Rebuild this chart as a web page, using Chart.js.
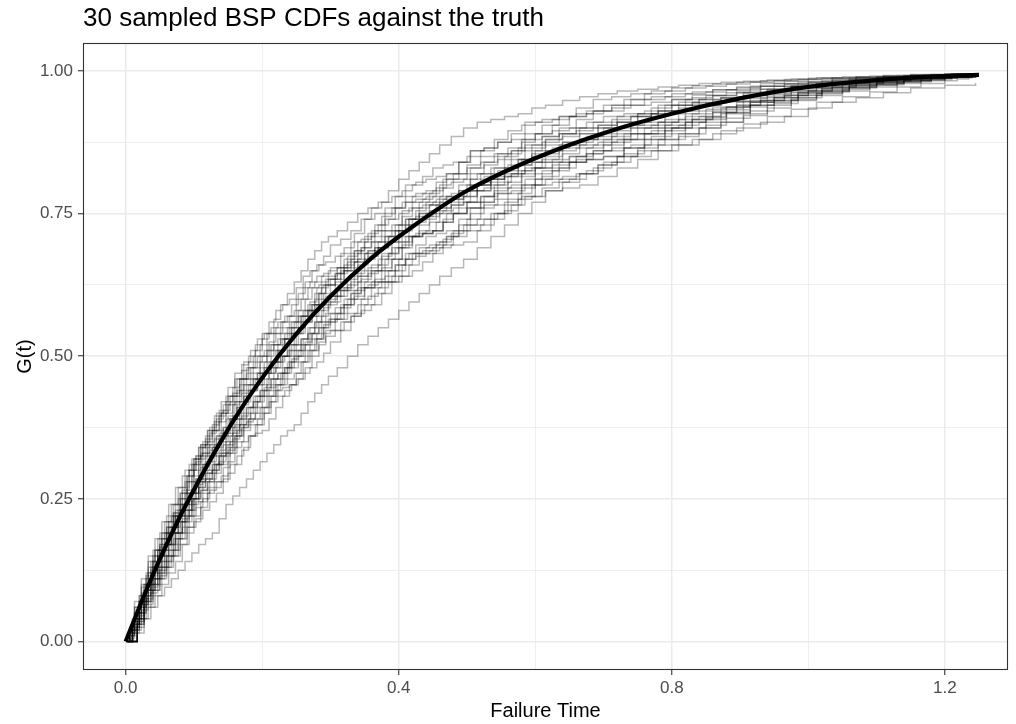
<!DOCTYPE html>
<html>
<head>
<meta charset="utf-8">
<title>30 sampled BSP CDFs against the truth</title>
<script src="https://cdn.jsdelivr.net/npm/chart.js@4.4.1/dist/chart.umd.min.js"></script>
<style>
  html, body { margin: 0; padding: 0; background: #fff; }
  canvas { display: block; }
</style>
</head>
<body>
<canvas id="cdfPlot" width="1016" height="724"></canvas>
<script>
var plotTitle = '30 sampled BSP CDFs against the truth';
var xTitle = 'Failure Time';
var yTitle = 'G(t)';

// axis breaks (major ones get a label)
var xBreaks = [0, 0.2, 0.4, 0.6, 0.8, 1.0, 1.2];
var xLabels = ['0.0', '', '0.4', '', '0.8', '', '1.2'];
var yBreaks = [0, 0.125, 0.25, 0.375, 0.5, 0.625, 0.75, 0.875, 1.0];
var yLabels = ['0.00', '', '0.25', '', '0.50', '', '0.75', '', '1.00'];

// true CDF
var truthT = [0, 0.02, 0.04, 0.06, 0.08, 0.10, 0.13, 0.16, 0.20, 0.25, 0.30, 0.36, 0.42, 0.50, 0.60, 0.70, 0.80, 0.90, 1.00, 1.10, 1.18, 1.25];
var truthG = [0, 0.060, 0.117, 0.170, 0.220, 0.266, 0.331, 0.391, 0.462, 0.539, 0.605, 0.672, 0.727, 0.790, 0.847, 0.891, 0.925, 0.952, 0.972, 0.984, 0.990, 0.993];

// jump times of the sampled step functions (three sets)
var gridA = [0.003, 0.01, 0.02, 0.03, 0.04, 0.05, 0.06, 0.07, 0.08, 0.09, 0.10, 0.11, 0.12, 0.13, 0.14, 0.15, 0.16, 0.17, 0.18, 0.19, 0.20, 0.21, 0.22, 0.23, 0.24, 0.25, 0.26, 0.27, 0.28, 0.29, 0.30,
  0.315, 0.33, 0.345, 0.36, 0.375, 0.39, 0.405, 0.42, 0.435, 0.45, 0.465, 0.48, 0.50, 0.52, 0.54, 0.56, 0.58, 0.60, 0.625, 0.65, 0.675, 0.70, 0.73, 0.76, 0.79, 0.82, 0.85, 0.88, 0.915, 0.95, 0.985, 1.02, 1.06, 1.10, 1.14, 1.18, 1.21, 1.24];
var gridB = [0.008, 0.017, 0.027, 0.037, 0.047, 0.057, 0.067, 0.077, 0.087, 0.097, 0.107, 0.117, 0.127, 0.137, 0.147, 0.157, 0.167, 0.177, 0.187, 0.197, 0.207, 0.217, 0.227, 0.237, 0.247, 0.257, 0.267, 0.277, 0.287, 0.297, 0.31,
  0.325, 0.34, 0.355, 0.37, 0.385, 0.40, 0.415, 0.43, 0.445, 0.46, 0.477, 0.495, 0.515, 0.535, 0.555, 0.575, 0.595, 0.615, 0.64, 0.665, 0.692, 0.72, 0.75, 0.78, 0.81, 0.84, 0.872, 0.905, 0.94, 0.975, 1.012, 1.05, 1.09, 1.13, 1.165, 1.20, 1.218, 1.235];
var gridC = [0.001, 0.006, 0.013, 0.023, 0.033, 0.043, 0.053, 0.063, 0.073, 0.083, 0.093, 0.103, 0.113, 0.123, 0.133, 0.143, 0.153, 0.163, 0.173, 0.183, 0.193, 0.203, 0.213, 0.223, 0.233, 0.243, 0.253, 0.263, 0.273, 0.283, 0.293,
  0.307, 0.32, 0.335, 0.35, 0.365, 0.38, 0.395, 0.41, 0.425, 0.44, 0.455, 0.47, 0.488, 0.505, 0.525, 0.545, 0.565, 0.585, 0.61, 0.635, 0.66, 0.685, 0.712, 0.74, 0.77, 0.80, 0.83, 0.86, 0.895, 0.93, 0.965, 1.00, 1.035, 1.07, 1.11, 1.15, 1.20, 1.245];

// sampled CDF values
var cdf01 = [0,.03,.07,.11,.14,.165,.20,.225,.24,.265,.30,.33,.35,.37,.40,.415,.43,.46,.48,.49,.50,.525,.54,.55,.56,.57,.58,.595,.62,.625,.635,
  .655,.68,.69,.70,.71,.72,.745,.76,.765,.77,.775,.78,.80,.82,.83,.835,.845,.86,.865,.87,.885,.90,.905,.91,.93,.94,.944,.947,.958,.968,.972,.978,.983,.986,.989,.991,.992,.993];
var cdf02 = [0,.02,.05,.075,.10,.125,.15,.17,.19,.22,.25,.265,.28,.31,.33,.345,.36,.375,.39,.41,.43,.445,.46,.48,.50,.51,.52,.53,.54,.555,.575,
  .59,.61,.635,.65,.655,.67,.695,.71,.715,.72,.74,.75,.77,.78,.785,.795,.815,.83,.84,.85,.855,.86,.88,.89,.90,.91,.92,.932,.945,.953,.961,.967,.974,.979,.984,.987,.99,.992];
var cdf03 = [0,.035,.08,.12,.16,.19,.22,.24,.26,.29,.32,.345,.37,.385,.40,.43,.46,.475,.49,.51,.53,.54,.55,.56,.57,.60,.62,.63,.64,.645,.655,
  .68,.70,.705,.72,.745,.76,.77,.78,.785,.79,.81,.82,.83,.84,.85,.855,.875,.89,.895,.90,.91,.92,.925,.93,.94,.95,.957,.962,.968,.973,.977,.981,.985,.988,.99,.992,.994,.995];
var cdf04 = [0,.025,.06,.09,.11,.14,.17,.20,.23,.245,.27,.285,.30,.325,.35,.365,.38,.395,.41,.43,.45,.47,.49,.50,.51,.52,.53,.55,.57,.585,.605,
  .615,.63,.64,.65,.675,.69,.70,.71,.715,.72,.735,.75,.76,.77,.775,.785,.80,.82,.83,.84,.845,.85,.865,.88,.895,.91,.918,.927,.94,.948,.958,.965,.972,.978,.983,.987,.99,.992];
var cdf05 = [0,.02,.05,.07,.09,.115,.14,.16,.18,.20,.22,.245,.27,.28,.29,.315,.34,.35,.36,.38,.40,.42,.44,.445,.45,.47,.49,.51,.53,.54,.545,
  .56,.57,.60,.62,.63,.64,.66,.68,.685,.69,.705,.72,.74,.76,.765,.775,.795,.81,.825,.84,.845,.85,.865,.88,.89,.90,.915,.927,.94,.948,.957,.965,.972,.978,.983,.987,.989,.991];
var cdf06 = [0,.04,.08,.115,.15,.17,.19,.22,.25,.28,.31,.325,.34,.355,.37,.395,.42,.435,.45,.46,.47,.49,.51,.53,.55,.56,.57,.58,.59,.61,.625,
  .65,.67,.69,.71,.72,.73,.755,.77,.775,.78,.795,.81,.835,.85,.855,.865,.88,.89,.905,.92,.925,.93,.94,.95,.955,.96,.963,.967,.973,.978,.98,.983,.986,.989,.991,.993,.994,.994];
var cdf07 = [0,.03,.07,.10,.13,.16,.19,.225,.26,.29,.32,.345,.37,.395,.42,.445,.47,.485,.50,.52,.54,.56,.58,.59,.60,.62,.64,.65,.66,.675,.695,
  .705,.72,.74,.76,.77,.78,.79,.80,.815,.83,.835,.84,.85,.86,.88,.895,.905,.91,.915,.92,.93,.94,.95,.96,.965,.97,.973,.977,.98,.983,.985,.987,.988,.990,.992,.994,.995,.995];
var cdf08 = [0,.025,.06,.085,.11,.13,.15,.18,.21,.23,.25,.265,.28,.295,.31,.335,.36,.375,.39,.40,.41,.43,.45,.47,.49,.50,.51,.52,.53,.55,.565,
  .585,.61,.62,.63,.65,.67,.69,.71,.715,.72,.735,.75,.76,.77,.79,.805,.825,.84,.845,.85,.865,.88,.89,.90,.915,.93,.933,.937,.948,.958,.965,.971,.977,.981,.985,.988,.99,.992];
var cdf09 = [0,.035,.07,.10,.14,.17,.20,.22,.24,.26,.28,.305,.33,.345,.36,.375,.39,.415,.44,.45,.46,.47,.48,.50,.52,.54,.56,.57,.58,.59,.595,
  .62,.64,.65,.66,.68,.70,.72,.74,.745,.75,.755,.76,.77,.78,.80,.815,.82,.83,.835,.84,.855,.87,.88,.89,.905,.92,.93,.937,.945,.953,.962,.969,.975,.980,.984,.988,.991,.993];
var cdf10 = [0,.015,.04,.065,.09,.11,.13,.15,.17,.19,.21,.235,.26,.27,.28,.295,.31,.335,.36,.365,.37,.39,.41,.43,.45,.46,.47,.48,.49,.505,.525,
  .545,.57,.58,.59,.61,.63,.64,.65,.665,.68,.695,.71,.72,.73,.75,.765,.78,.80,.805,.81,.825,.84,.855,.87,.88,.89,.905,.917,.93,.943,.953,.963,.97,.976,.981,.985,.988,.990];
var cdf11 = [0,.05,.10,.14,.18,.21,.24,.27,.30,.32,.34,.355,.37,.395,.42,.435,.45,.46,.47,.49,.51,.52,.53,.54,.55,.57,.59,.61,.63,.64,.645,
  .655,.67,.685,.70,.71,.72,.74,.76,.765,.77,.775,.78,.80,.82,.825,.835,.84,.85,.865,.88,.885,.89,.90,.91,.915,.92,.935,.947,.955,.963,.97,.975,.98,.984,.987,.990,.992,.993];
var cdf12 = [0,.035,.08,.11,.14,.17,.20,.23,.26,.29,.32,.345,.37,.385,.40,.43,.46,.47,.48,.50,.52,.54,.56,.57,.58,.60,.62,.63,.64,.65,.655,
  .675,.70,.715,.73,.74,.75,.76,.77,.785,.80,.805,.81,.82,.83,.85,.865,.87,.88,.89,.90,.905,.91,.92,.93,.94,.95,.953,.957,.965,.973,.977,.981,.984,.987,.99,.992,.993,.994];
var cdf13 = [0,.03,.07,.095,.12,.14,.16,.19,.22,.25,.28,.295,.31,.325,.34,.365,.39,.41,.43,.44,.45,.46,.47,.49,.51,.53,.55,.56,.57,.59,.605,
  .615,.63,.645,.66,.68,.70,.71,.72,.735,.75,.765,.78,.79,.80,.82,.835,.855,.87,.875,.88,.89,.90,.905,.91,.925,.94,.946,.952,.96,.966,.972,.977,.981,.985,.988,.990,.992,.993];
var cdf14 = [0,.04,.09,.12,.15,.17,.19,.21,.23,.25,.27,.285,.30,.315,.33,.355,.38,.385,.39,.41,.43,.44,.45,.46,.47,.49,.51,.53,.55,.56,.565,
  .575,.59,.605,.62,.63,.64,.66,.68,.685,.69,.695,.70,.72,.74,.755,.775,.78,.79,.795,.80,.815,.83,.845,.86,.87,.88,.895,.907,.92,.933,.945,.955,.963,.972,.978,.983,.986,.989];
var cdf15 = [0,.015,.04,.06,.08,.095,.11,.125,.14,.155,.17,.18,.19,.215,.24,.255,.27,.285,.30,.315,.33,.345,.36,.37,.38,.40,.42,.435,.45,.465,.48,
  .50,.52,.535,.55,.565,.58,.595,.61,.625,.64,.655,.67,.69,.71,.73,.75,.77,.79,.805,.82,.835,.85,.865,.88,.89,.90,.91,.925,.94,.95,.96,.968,.975,.98,.984,.987,.989,.99];
var cdf16 = [0,.045,.10,.13,.16,.19,.22,.25,.28,.31,.34,.36,.38,.405,.43,.445,.46,.48,.50,.52,.54,.565,.59,.61,.63,.65,.67,.685,.70,.71,.72,
  .735,.75,.76,.77,.79,.81,.825,.84,.855,.87,.885,.90,.91,.915,.92,.925,.935,.94,.948,.955,.96,.965,.968,.972,.975,.978,.98,.982,.984,.986,.988,.99,.991,.992,.993,.994,.995,.995];
var cdf17 = [0,.03,.07,.10,.13,.16,.19,.21,.23,.26,.29,.315,.34,.355,.37,.395,.42,.44,.46,.47,.48,.49,.50,.52,.54,.56,.58,.59,.60,.605,.615,
  .635,.66,.675,.69,.70,.71,.73,.75,.755,.76,.775,.79,.80,.81,.83,.845,.865,.88,.885,.89,.90,.91,.925,.94,.945,.95,.953,.957,.965,.973,.977,.98,.984,.987,.99,.992,.993,.994];
var cdf18 = [0,.04,.09,.125,.16,.18,.20,.22,.24,.26,.28,.295,.31,.335,.36,.37,.38,.40,.42,.43,.44,.45,.46,.48,.50,.52,.54,.55,.56,.565,.575,
  .60,.62,.625,.63,.65,.67,.68,.69,.695,.70,.715,.73,.74,.75,.77,.785,.80,.81,.815,.82,.835,.85,.86,.87,.885,.90,.91,.922,.935,.948,.957,.965,.972,.978,.983,.987,.989,.991];
var cdf19 = [0,.035,.08,.115,.15,.17,.19,.22,.25,.28,.31,.325,.34,.365,.39,.415,.44,.45,.46,.48,.50,.52,.54,.55,.56,.57,.58,.60,.62,.635,.655,
  .665,.68,.685,.69,.71,.73,.74,.75,.765,.78,.785,.79,.80,.81,.815,.825,.83,.84,.855,.87,.875,.88,.89,.90,.905,.91,.925,.937,.945,.953,.962,.97,.976,.981,.985,.988,.991,.993];
var cdf20 = [0,.025,.06,.085,.11,.13,.15,.18,.21,.24,.27,.285,.30,.325,.35,.375,.40,.41,.42,.44,.46,.48,.50,.51,.52,.53,.54,.56,.58,.60,.615,
  .625,.64,.655,.67,.68,.69,.71,.73,.745,.76,.765,.77,.79,.81,.83,.845,.85,.86,.875,.89,.905,.92,.925,.93,.935,.94,.952,.962,.968,.973,.977,.98,.985,.988,.99,.992,.993,.994];
var cdf21 = [0,.02,.07,.11,.15,.18,.21,.24,.27,.29,.31,.325,.34,.365,.39,.405,.42,.44,.46,.48,.50,.51,.52,.53,.54,.56,.58,.60,.62,.625,.635,
  .645,.66,.685,.71,.73,.75,.76,.77,.775,.78,.795,.81,.82,.83,.835,.845,.86,.88,.885,.89,.90,.91,.915,.92,.935,.95,.953,.957,.965,.973,.977,.98,.984,.987,.99,.992,.993,.994];
var cdf22 = [0,.01,.03,.055,.08,.10,.12,.15,.18,.20,.22,.235,.25,.265,.28,.305,.33,.35,.37,.38,.39,.41,.43,.45,.47,.48,.49,.50,.51,.525,.545,
  .565,.59,.60,.62,.63,.64,.66,.68,.695,.71,.715,.72,.74,.76,.78,.795,.80,.81,.825,.84,.85,.86,.875,.89,.895,.90,.915,.927,.94,.948,.957,.965,.972,.978,.983,.987,.989,.991];
var cdf23 = [0,.015,.05,.075,.10,.13,.16,.19,.22,.24,.26,.285,.31,.335,.36,.375,.39,.41,.43,.45,.47,.49,.51,.52,.53,.54,.55,.57,.59,.61,.625,
  .635,.65,.665,.68,.70,.72,.73,.74,.745,.75,.765,.78,.79,.80,.805,.815,.82,.83,.845,.86,.865,.87,.885,.90,.905,.91,.925,.937,.945,.953,.962,.969,.975,.98,.984,.988,.99,.992];
var cdf24 = [0,.01,.04,.07,.10,.125,.15,.17,.19,.215,.24,.26,.28,.295,.31,.33,.35,.37,.39,.41,.43,.445,.46,.47,.48,.495,.51,.525,.54,.55,.56,
  .575,.59,.605,.62,.635,.65,.66,.67,.68,.69,.70,.71,.72,.73,.74,.75,.765,.78,.795,.81,.82,.83,.84,.85,.86,.87,.88,.89,.90,.91,.92,.935,.945,.953,.962,.97,.975,.979];
var cdf25 = [0,.02,.06,.095,.13,.16,.19,.21,.23,.265,.30,.325,.35,.375,.40,.415,.43,.46,.49,.51,.53,.54,.55,.56,.57,.59,.61,.63,.65,.66,.665,
  .675,.69,.715,.74,.75,.76,.78,.80,.805,.81,.815,.82,.84,.86,.865,.875,.88,.89,.905,.92,.925,.93,.94,.95,.955,.96,.963,.967,.972,.978,.982,.985,.987,.989,.991,.993,.994,.995];
var cdf26 = [0,.015,.04,.065,.09,.12,.15,.17,.19,.22,.25,.275,.30,.315,.33,.345,.36,.39,.42,.44,.46,.47,.48,.49,.50,.52,.54,.56,.58,.59,.595,
  .605,.62,.645,.67,.69,.71,.72,.73,.735,.74,.755,.77,.79,.81,.815,.825,.845,.86,.875,.89,.895,.90,.91,.92,.925,.93,.945,.957,.962,.968,.973,.978,.982,.986,.989,.991,.992,.993];
var cdf27 = [0,.005,.02,.04,.06,.08,.10,.12,.14,.17,.20,.215,.23,.245,.26,.285,.31,.325,.34,.36,.38,.40,.42,.43,.44,.45,.46,.48,.50,.52,.535,
  .545,.56,.575,.59,.61,.63,.65,.67,.675,.68,.695,.71,.73,.75,.765,.785,.79,.80,.815,.83,.845,.86,.865,.87,.885,.90,.915,.927,.94,.948,.957,.965,.972,.978,.982,.986,.989,.991];
var cdf28 = [0,.015,.05,.085,.12,.15,.18,.20,.22,.24,.26,.285,.31,.325,.34,.365,.39,.41,.43,.44,.45,.47,.49,.51,.53,.54,.55,.56,.57,.59,.605,
  .63,.65,.665,.68,.69,.70,.72,.74,.755,.77,.775,.78,.80,.82,.84,.855,.86,.87,.885,.90,.915,.93,.935,.94,.945,.95,.958,.967,.97,.973,.977,.981,.985,.988,.99,.992,.993,.994];
var cdf29 = [0,.01,.04,.065,.09,.11,.13,.16,.19,.21,.23,.245,.26,.285,.31,.325,.34,.36,.38,.40,.42,.44,.46,.47,.48,.49,.50,.52,.54,.56,.575,
  .585,.60,.615,.63,.65,.67,.69,.71,.715,.72,.735,.75,.77,.79,.795,.805,.82,.84,.855,.87,.875,.88,.895,.91,.925,.94,.944,.947,.955,.963,.97,.975,.98,.984,.987,.99,.992,.993];
var cdf30 = [0,.02,.06,.10,.14,.16,.18,.21,.24,.27,.30,.315,.33,.345,.36,.375,.39,.42,.45,.46,.47,.48,.49,.51,.53,.55,.57,.58,.59,.61,.625,
  .645,.67,.685,.70,.72,.74,.76,.78,.785,.79,.805,.82,.84,.86,.865,.875,.89,.91,.915,.92,.935,.95,.955,.96,.965,.97,.974,.977,.98,.983,.985,.987,.988,.99,.992,.994,.995,.995];

var samples = [
  [gridA, cdf01], [gridA, cdf02], [gridA, cdf03], [gridA, cdf04], [gridA, cdf05],
  [gridA, cdf06], [gridA, cdf07], [gridA, cdf08], [gridA, cdf09], [gridA, cdf10],
  [gridB, cdf11], [gridB, cdf12], [gridB, cdf13], [gridB, cdf14], [gridB, cdf15],
  [gridB, cdf16], [gridB, cdf17], [gridB, cdf18], [gridB, cdf19], [gridB, cdf20],
  [gridC, cdf21], [gridC, cdf22], [gridC, cdf23], [gridC, cdf24], [gridC, cdf25],
  [gridC, cdf26], [gridC, cdf27], [gridC, cdf28], [gridC, cdf29], [gridC, cdf30]
];

var fontFamily = '"Liberation Sans", Arial, Helvetica, sans-serif';

function toPoints(xs, ys) {
  var pts = [];
  var n = Math.min(xs.length, ys.length);
  for (var i = 0; i < n; i++) {
    pts.push({x: xs[i], y: ys[i]});
  }
  return pts;
}

// truth first so it is drawn on top
var datasets = [{
  label: 'truth',
  data: toPoints(truthT, truthG),
  borderColor: '#000000',
  borderWidth: 4.2,
  pointRadius: 0,
  fill: false,
  cubicInterpolationMode: 'monotone',
  borderCapStyle: 'butt'
}];

for (var s = 0; s < samples.length; s++) {
  datasets.push({
    label: 'sample ' + (s + 1),
    data: toPoints(samples[s][0], samples[s][1]),
    borderColor: 'rgba(0, 0, 0, 0.28)',
    borderWidth: 1.5,
    pointRadius: 0,
    fill: false,
    stepped: true
  });
}

function labelFor(breaks, labels, v) {
  for (var i = 0; i < breaks.length; i++) {
    if (Math.abs(breaks[i] - v) < 1e-6) return labels[i];
  }
  return '';
}
function isMajor(breaks, labels, v) {
  return labelFor(breaks, labels, v) !== '';
}

// title + panel border (ggplot theme_bw look)
var panelPlugin = {
  id: 'panel',
  afterDatasetsDraw: function(chart) {
    var a = chart.chartArea, ctx = chart.ctx;
    ctx.save();
    ctx.strokeStyle = '#333333';
    ctx.lineWidth = 1.1;
    ctx.strokeRect(a.left + 0.5, a.top + 0.5, a.right - a.left - 1, a.bottom - a.top - 1);
    ctx.restore();
  },
  afterDraw: function(chart) {
    var ctx = chart.ctx;
    ctx.save();
    ctx.font = '26px ' + fontFamily;
    ctx.fillStyle = '#000000';
    ctx.textAlign = 'left';
    ctx.textBaseline = 'alphabetic';
    ctx.fillText(plotTitle, chart.chartArea.left, 26);
    ctx.restore();
  }
};

var ctx = document.getElementById('cdfPlot');
var cdfChart = new Chart(ctx, {
  type: 'line',
  data: { datasets: datasets },
  options: {
    responsive: false,
    animation: false,
    devicePixelRatio: 1,
    layout: { padding: { top: 43, right: 8, bottom: 0, left: 0 } },
    plugins: {
      legend: { display: false },
      tooltip: { enabled: false }
    },
    scales: {
      x: {
        type: 'linear',
        min: -0.0625,
        max: 1.2925,
        afterBuildTicks: function(scale) {
          scale.ticks = xBreaks.map(function(v) { return {value: v}; });
        },
        afterFit: function(scale) { scale.height = 54; },
        border: { display: false },
        grid: {
          color: '#ebebeb',
          lineWidth: function(c) { return isMajor(xBreaks, xLabels, c.tick.value) ? 1.5 : 0.8; },
          drawTicks: true,
          tickLength: 5,
          tickColor: function(c) { return isMajor(xBreaks, xLabels, c.tick.value) ? '#333333' : 'rgba(0,0,0,0)'; },
          tickWidth: 1.1
        },
        ticks: {
          autoSkip: false,
          maxRotation: 0,
          padding: 3,
          color: '#4d4d4d',
          font: { family: fontFamily, size: 17 },
          callback: function(v) { return labelFor(xBreaks, xLabels, v); }
        },
        title: {
          display: true,
          text: xTitle,
          color: '#000000',
          font: { family: fontFamily, size: 20 },
          padding: { top: 0, bottom: 1 }
        }
      },
      y: {
        type: 'linear',
        min: -0.05,
        max: 1.049,
        afterBuildTicks: function(scale) {
          scale.ticks = yBreaks.map(function(v) { return {value: v}; });
        },
        afterFit: function(scale) { scale.width = 83; },
        border: { display: false },
        grid: {
          color: '#ebebeb',
          lineWidth: function(c) { return isMajor(yBreaks, yLabels, c.tick.value) ? 1.5 : 0.8; },
          drawTicks: true,
          tickLength: 5,
          tickColor: function(c) { return isMajor(yBreaks, yLabels, c.tick.value) ? '#333333' : 'rgba(0,0,0,0)'; },
          tickWidth: 1.1
        },
        ticks: {
          autoSkip: false,
          padding: 5,
          color: '#4d4d4d',
          font: { family: fontFamily, size: 17 },
          callback: function(v) { return labelFor(yBreaks, yLabels, v); }
        },
        title: {
          display: true,
          text: yTitle,
          color: '#000000',
          font: { family: fontFamily, size: 20 },
          padding: { top: 13, bottom: 0 }
        }
      }
    }
  },
  plugins: [panelPlugin]
});
</script>
</body>
</html>
